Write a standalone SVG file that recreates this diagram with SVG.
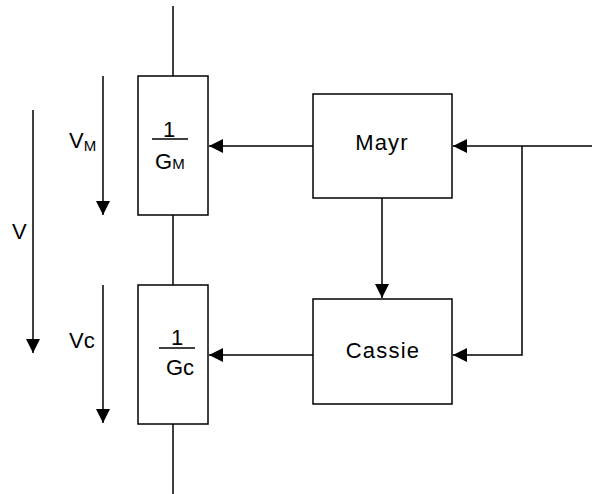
<svg xmlns="http://www.w3.org/2000/svg" width="608" height="494" viewBox="0 0 608 494">
<style>
.box{fill:#fff;stroke:#000;stroke-width:1.5}
.ln{fill:none;stroke:#000;stroke-width:1.5}
.ar{fill:none;stroke:#000;stroke-width:1.5;marker-end:url(#ah)}
text{font-family:"Liberation Sans",Arial,sans-serif;fill:#000}
.t{font-size:22px;letter-spacing:1.2px}
.f{font-size:22px}
.s{font-size:15px}
</style>
<defs>
<marker id="ah" markerUnits="userSpaceOnUse" markerWidth="15" markerHeight="15" refX="14" refY="7" orient="auto" viewBox="0 0 15 14">
<path d="M0,0 L14,7 L0,14 Z" fill="#000"/>
</marker>
</defs>
<g id="connectors">
<line class="ln" x1="173" y1="6" x2="173" y2="76"/>
<line class="ln" x1="173" y1="215" x2="173" y2="285"/>
<line class="ln" x1="173" y1="424" x2="173" y2="494"/>
<line class="ar" x1="313" y1="146" x2="209" y2="146"/>
<line class="ar" x1="313" y1="355" x2="209" y2="355"/>
<line class="ar" x1="382" y1="198" x2="382" y2="298"/>
<line class="ar" x1="592" y1="146" x2="453" y2="146"/>
<polyline class="ar" points="522,146 522,355 453,355"/>
<line class="ar" x1="103" y1="76" x2="103" y2="215"/>
<line class="ar" x1="33" y1="110" x2="33" y2="353"/>
<line class="ar" x1="103" y1="285" x2="103" y2="423"/>
</g>
<g id="gm">
<rect class="box" x="138" y="76" width="70" height="139"/>
<text class="f" x="169" y="137" text-anchor="middle">1</text>
<line class="ln" x1="152" y1="139" x2="188" y2="139"/>
<text x="155" y="169"><tspan class="f">G</tspan><tspan class="s">M</tspan></text>
</g>
<g id="gc">
<rect class="box" x="138" y="285" width="70" height="139"/>
<text class="f" x="177" y="345" text-anchor="middle">1</text>
<line class="ln" x1="159" y1="348" x2="195" y2="348"/>
<text class="f" x="166" y="375">Gc</text>
</g>
<g id="mayr">
<rect class="box" x="313" y="94" width="139" height="104"/>
<text class="t" x="382" y="150" text-anchor="middle">Mayr</text>
</g>
<g id="cassie">
<rect class="box" x="313" y="299" width="139" height="105"/>
<text class="t" x="383" y="358" text-anchor="middle">Cassie</text>
</g>
<g id="labels">
<text x="69" y="148"><tspan class="f">V</tspan><tspan class="s" dy="3">M</tspan></text>
<text class="f" x="69" y="348">Vc</text>
<text class="f" x="12" y="239">V</text>
</g>
</svg>
